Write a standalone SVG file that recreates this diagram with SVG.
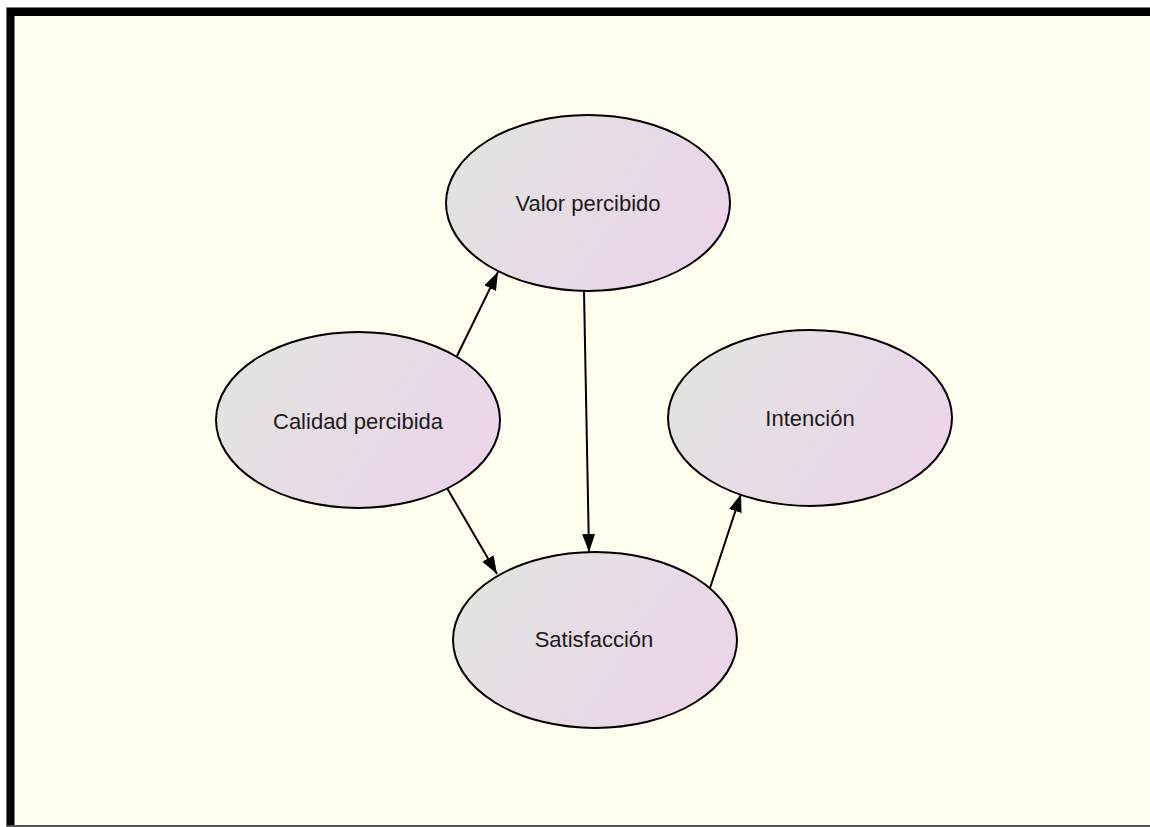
<svg xmlns="http://www.w3.org/2000/svg" width="1150" height="827" viewBox="0 0 1150 827">
  <defs>
    <linearGradient id="nodeFill" x1="0" y1="0.3" x2="1" y2="0.7">
      <stop offset="0" stop-color="#E1E4E0"/>
      <stop offset="1" stop-color="#EDD3EA"/>
    </linearGradient>
    <marker id="arrow" markerUnits="userSpaceOnUse" markerWidth="20" markerHeight="14" refX="18" refY="6.5" orient="auto">
      <path d="M0,0 L18,6.5 L0,13 Z" fill="#000"/>
    </marker>
  </defs>
  <style>
    .node ellipse { fill: url(#nodeFill); stroke: #000; stroke-width: 2; }
    .node text { font-family: "Liberation Sans", Arial, sans-serif; font-size: 22px; fill: #1a1a1a; text-anchor: middle; }
    .edge { stroke: #000; stroke-width: 2; fill: none; marker-end: url(#arrow); }
  </style>

  <!-- page background and frame -->
  <rect x="0" y="0" width="1150" height="827" fill="#FFFFFF"/>
  <rect x="6.5" y="7.5" width="1144" height="819" fill="#000" stroke="#777" stroke-width="1"/>
  <rect x="14.5" y="16" width="1136" height="809" fill="#FFFFF0"/>
  <line x1="7" y1="826" x2="1150" y2="826" stroke="#555" stroke-width="2"/>

  <!-- connectors -->
  <g id="edges">
    <line class="edge" x1="457" y1="356" x2="498" y2="272"/>
    <line class="edge" x1="584" y1="291" x2="589" y2="552"/>
    <line class="edge" x1="447" y1="488" x2="497" y2="574"/>
    <line class="edge" x1="710" y1="588" x2="741" y2="494"/>
  </g>

  <g id="valor" class="node">
    <ellipse cx="588" cy="203" rx="142" ry="88"/>
    <text x="588" y="211">Valor percibido</text>
  </g>
  <g id="calidad" class="node">
    <ellipse cx="358" cy="420" rx="142" ry="88"/>
    <text x="358" y="429">Calidad percibida</text>
  </g>
  <g id="intencion" class="node">
    <ellipse cx="810" cy="418" rx="142" ry="88"/>
    <text x="810" y="426">Intención</text>
  </g>
  <g id="satisfaccion" class="node">
    <ellipse cx="595" cy="640" rx="142" ry="88"/>
    <text x="594" y="647">Satisfacción</text>
  </g>
</svg>
